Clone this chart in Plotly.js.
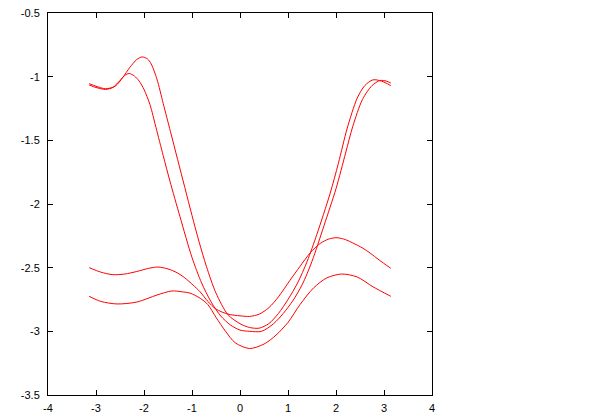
<!DOCTYPE html>
<html>
<head>
<meta charset="utf-8">
<script src="https://cdn.plot.ly/plotly-3.0.1.min.js"></script>
<style>
  html, body { margin: 0; padding: 0; background: #ffffff; }
  #chart { width: 600px; height: 420px; }
</style>
</head>
<body>
<div id="chart"></div>
<script>
// Curve A (tall left peak)
const aX = [-3.1416, -3.0, -2.8, -2.6, -2.44, -2.3, -2.15, -2.04, -1.93, -1.85, -1.73, -1.6, -1.45, -1.3, -1.15, -1.0, -0.85, -0.7, -0.5, -0.25, 0, 0.2, 0.4, 0.6, 0.8, 1.0, 1.2, 1.4, 1.6, 1.875, 2.05, 2.23, 2.44, 2.6, 2.77, 2.95, 3.1416];
const aY = [-1.055, -1.075, -1.095, -1.075, -1.005, -0.93, -0.865, -0.845, -0.86, -0.9, -1.02, -1.21, -1.43, -1.65, -1.87, -2.09, -2.3, -2.49, -2.7, -2.87, -2.94, -2.97, -2.975, -2.94, -2.86, -2.75, -2.62, -2.45, -2.24, -1.92, -1.68, -1.41, -1.17, -1.07, -1.025, -1.035, -1.07];

// Curve B (lower left peak)
const bX = [-3.1416, -3.0, -2.8, -2.65, -2.5, -2.4, -2.31, -2.2, -2.1, -2.0, -1.875, -1.75, -1.6, -1.46, -1.25, -1.0, -0.8, -0.6, -0.4, -0.2, 0, 0.2, 0.45, 0.7, 0.9, 1.1, 1.3, 1.5, 1.75, 2.0, 2.2, 2.35, 2.55, 2.75, 2.92, 3.05, 3.1416];
const bY = [-1.065, -1.085, -1.1, -1.085, -1.03, -0.99, -0.975, -0.995, -1.035, -1.1, -1.22, -1.4, -1.62, -1.82, -2.1, -2.42, -2.62, -2.77, -2.88, -2.95, -2.99, -3.0, -3.0, -2.94, -2.86, -2.76, -2.63, -2.45, -2.17, -1.88, -1.6, -1.39, -1.18, -1.07, -1.03, -1.035, -1.05];

// Curve C (upper flat curve)
const cX = [-3.1416, -2.9, -2.65, -2.4, -2.15, -1.9, -1.71, -1.5, -1.31, -1.15, -0.98, -0.83, -0.67, -0.5, -0.25, 0, 0.2, 0.4, 0.6, 0.8, 1.04, 1.25, 1.46, 1.67, 1.85, 2.02, 2.2, 2.35, 2.55, 2.71, 2.9, 3.1416];
const cY = [-2.5, -2.535, -2.555, -2.55, -2.53, -2.505, -2.495, -2.51, -2.54, -2.58, -2.636, -2.69, -2.765, -2.825, -2.865, -2.878, -2.883, -2.865, -2.815, -2.73, -2.6, -2.49, -2.385, -2.31, -2.275, -2.265, -2.28, -2.306, -2.345, -2.385, -2.44, -2.505];

// Curve D (lower flat curve)
const dX = [-3.1416, -2.9, -2.56, -2.15, -1.73, -1.42, -1.2, -1.04, -0.83, -0.67, -0.5, -0.3, -0.1, 0.2, 0.5, 0.75, 1.0, 1.25, 1.53, 1.81, 2.12, 2.44, 2.77, 3.1416];
const dY = [-2.725, -2.765, -2.785, -2.77, -2.715, -2.683, -2.69, -2.70, -2.74, -2.79, -2.89, -3.0, -3.09, -3.135, -3.1, -3.03, -2.93, -2.79, -2.66, -2.58, -2.55, -2.573, -2.65, -2.725];

// Tick labels
const xTickVals = [-4, -3, -2, -1, 0, 1, 2, 3, 4];
const xTickText = ["-4", "-3", "-2", "-1", "0", "1", "2", "3", "4"];
const yTickVals = [-3.5, -3, -2.5, -2, -1.5, -1, -0.5];
const yTickText = ["-3.5", "-3", "-2.5", "-2", "-1.5", "-1", "-0.5"];

function curve(xs, ys) {
  return {
    x: xs, y: ys, type: 'scatter', mode: 'lines',
    line: { color: '#ff0000', width: 1, shape: 'spline', smoothing: 0.8 },
    hoverinfo: 'skip', showlegend: false
  };
}

const data = [curve(aX, aY), curve(bX, bY), curve(cX, cY), curve(dX, dY)];

const axisFont = { family: 'Liberation Sans, Arial, sans-serif', size: 11, color: '#000000' };

const layout = {
  width: 600, height: 420,
  margin: { l: 48, r: 168, t: 13, b: 25, pad: 0 },
  paper_bgcolor: '#ffffff', plot_bgcolor: '#ffffff',
  showlegend: false,
  xaxis: {
    range: [-4, 4], tickmode: 'array', tickvals: xTickVals, ticktext: xTickText,
    ticks: 'inside', ticklen: 5, tickwidth: 1, tickcolor: '#000000',
    showline: true, linecolor: '#000000', linewidth: 1, mirror: 'ticks',
    showgrid: false, zeroline: false, tickfont: axisFont, fixedrange: true,
    ticklabelstandoff: 3
  },
  yaxis: {
    range: [-3.5, -0.5], tickmode: 'array', tickvals: yTickVals, ticktext: yTickText,
    ticks: 'inside', ticklen: 5, tickwidth: 1, tickcolor: '#000000',
    showline: true, linecolor: '#000000', linewidth: 1, mirror: 'ticks',
    showgrid: false, zeroline: false, tickfont: axisFont, fixedrange: true,
    ticklabelstandoff: 5
  }
};

Plotly.newPlot('chart', data, layout, { staticPlot: true, displayModeBar: false });
</script>
</body>
</html>
